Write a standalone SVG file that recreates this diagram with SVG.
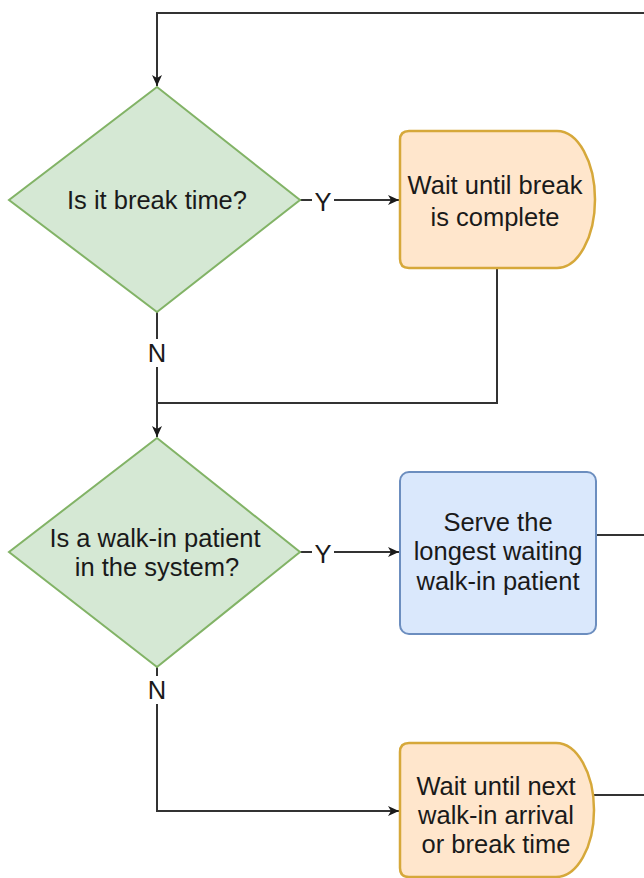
<svg xmlns="http://www.w3.org/2000/svg" width="644" height="878" viewBox="0 0 644 878">
  <defs>
    <marker id="arr" markerWidth="12" markerHeight="10" refX="11" refY="5" orient="auto" markerUnits="userSpaceOnUse">
      <path d="M0,0 L11,5 L0,10 L3,5 Z" fill="#1a1a1a"/>
    </marker>
    <style>
      .t{font-family:"Liberation Sans",Arial,Helvetica,sans-serif;font-size:25.5px;fill:#1a1a1a;text-anchor:middle}
      .dec{fill:#d5e8d4;stroke:#82b366;stroke-width:2}
      .wait{fill:#ffe6cc;stroke:#d6a83a;stroke-width:2.5}
      .proc{fill:#dae8fc;stroke:#6c8ebf;stroke-width:2}
      .c{fill:none;stroke:#333333;stroke-width:2}
      .lb{fill:#ffffff}
    </style>
  </defs>
  <rect width="644" height="878" fill="#ffffff"/>

  <g id="connectors">
    <path class="c" d="M644,13 H157 V86" marker-end="url(#arr)"/>
    <path class="c" d="M300,200 H399" marker-end="url(#arr)"/>
    <path class="c" d="M497,268 V403 H157"/>
    <path class="c" d="M157,312 V437" marker-end="url(#arr)"/>
    <path class="c" d="M300,552 H399" marker-end="url(#arr)"/>
    <path class="c" d="M596,535 H644"/>
    <path class="c" d="M157,667 V811 H399" marker-end="url(#arr)"/>
    <path class="c" d="M594,795 H644"/>
    <g id="labels">
      <rect class="lb" x="312" y="187" width="22" height="28"/>
      <text class="t" x="323" y="211">Y</text>
      <rect class="lb" x="312" y="539" width="22" height="28"/>
      <text class="t" x="323" y="563">Y</text>
      <rect class="lb" x="146" y="339" width="22" height="28"/>
      <text class="t" x="157" y="362">N</text>
      <rect class="lb" x="146" y="676" width="22" height="28"/>
      <text class="t" x="157" y="699">N</text>
    </g>
  </g>

  <g id="decision1">
    <polygon class="dec" points="157,87 300,200 157,312 9,200"/>
    <text class="t" x="157" y="209">Is it break time?</text>
  </g>

  <g id="wait-break">
    <path class="wait" d="M409,131 H557 A38,68.5 0 0 1 557,268 H409 Q400,268 400,259 V140 Q400,131 409,131 Z"/>
    <text class="t" x="495" y="194">Wait until break</text>
    <text class="t" x="495" y="226">is complete</text>
  </g>

  <g id="decision2">
    <polygon class="dec" points="157,438 300,552 157,667 9,552"/>
    <text class="t" x="155" y="547">Is a walk-in patient</text>
    <text class="t" x="157" y="576">in the system?</text>
  </g>

  <g id="serve">
    <rect class="proc" x="400" y="472" width="196" height="162" rx="9"/>
    <text class="t" x="498" y="531">Serve the</text>
    <text class="t" x="498" y="560">longest waiting</text>
    <text class="t" x="498" y="590">walk-in patient</text>
  </g>

  <g id="wait-next">
    <path class="wait" d="M409,743 H556 A38,67 0 0 1 556,877 H409 Q400,877 400,868 V752 Q400,743 409,743 Z"/>
    <text class="t" x="496" y="795">Wait until next</text>
    <text class="t" x="496" y="824">walk-in arrival</text>
    <text class="t" x="496" y="853">or break time</text>
  </g>
</svg>
